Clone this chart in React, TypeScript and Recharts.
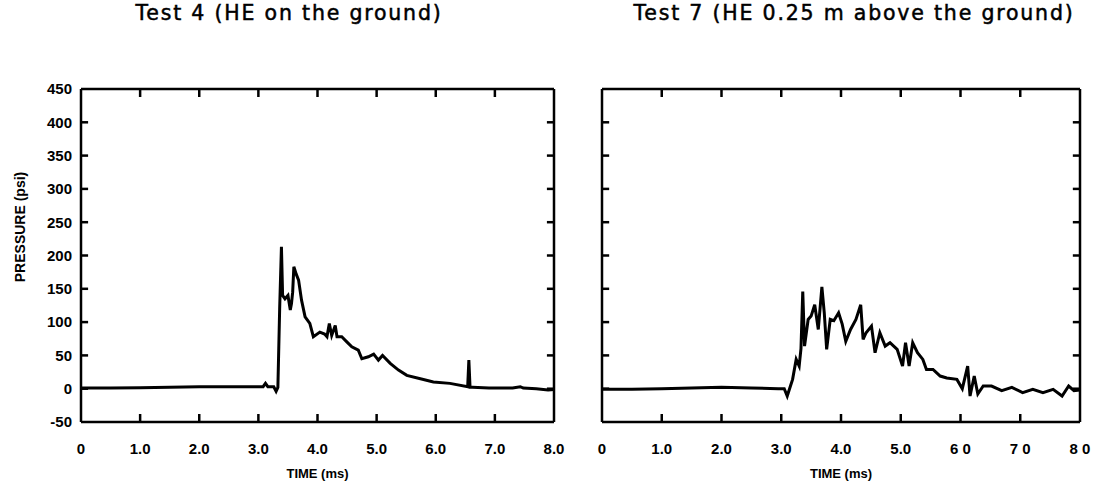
import { LineChart, Line, XAxis, YAxis, Label, ReferenceLine } from "recharts";

// time axis (ms) and pressure axis (psi)
const timeTicks = [0, 1, 2, 3, 4, 5, 6, 7, 8];
const pressureTicks = [-50, 0, 50, 100, 150, 200, 250, 300, 350, 400, 450];
const test4TimeLabels = ["0", "1.0", "2.0", "3.0", "4.0", "5.0", "6.0", "7.0", "8.0"];
const test7TimeLabels = ["0", "1.0", "2.0", "3.0", "4.0", "5.0", "6 0", "7 0", "8 0"];

// Test 4 - HE on the ground
const test4Time = [
  0, 0.5, 1.0, 1.5, 2.0, 2.5, 2.9, 3.08, 3.12, 3.16, 3.26, 3.3, 3.33, 3.36, 3.39, 3.41, 3.45,
  3.5, 3.54, 3.56, 3.58, 3.6, 3.64, 3.68, 3.73, 3.79, 3.87, 3.93, 4.04, 4.12, 4.16, 4.2, 4.24,
  4.3, 4.33, 4.41, 4.5, 4.58, 4.69, 4.75, 4.86, 4.95, 5.03, 5.1, 5.23, 5.37, 5.51, 5.74, 5.96,
  6.24, 6.54, 6.56, 6.58, 6.62, 6.9, 7.1, 7.3, 7.43, 7.48, 7.7, 7.9, 8.0,
];
const test4Pressure = [
  1, 1, 1.5, 2, 3, 3, 3, 3, 8, 3, 3, -4, 2, 120, 213, 140, 135,
  140, 118, 128, 145, 183, 172, 163, 133, 108, 98, 78, 85, 82, 78, 98, 80,
  95, 78, 78, 70, 63, 58, 45, 48, 52, 43, 50, 38, 28, 20, 15, 10,
  8, 3, 43, 2, 2, 1, 1, 1, 3, 1, 0, -2, -1,
];

// Test 7 - HE 0.25 m above the ground
const test7Time = [
  0, 0.5, 1.0, 1.5, 2.0, 2.5, 2.95, 3.05, 3.1, 3.15, 3.19, 3.25, 3.3, 3.33, 3.36, 3.39, 3.45,
  3.5, 3.56, 3.62, 3.68, 3.72, 3.76, 3.82, 3.88, 3.96, 4.02, 4.08, 4.16, 4.25, 4.33, 4.37, 4.42,
  4.51, 4.57, 4.65, 4.74, 4.82, 4.94, 5.03, 5.08, 5.14, 5.2, 5.28, 5.37, 5.43, 5.54, 5.66, 5.77,
  5.94, 6.03, 6.12, 6.16, 6.23, 6.29, 6.38, 6.52, 6.69, 6.86, 7.04, 7.21, 7.38, 7.55, 7.7, 7.81,
  7.9, 8.0,
];
const test7Pressure = [
  -1, -1, 0, 1, 2, 1, 0, 0, -11, 3, 14, 44, 34, 60, 146, 64, 104,
  109, 126, 89, 153, 114, 59, 104, 102, 114, 97, 71, 89, 104, 126, 74, 84,
  94, 54, 84, 64, 69, 59, 34, 69, 34, 69, 54, 44, 29, 29, 19, 16,
  14, 0, 34, -11, 19, -8, 4, 4, -3, 2, -6, -1, -6, -1, -11, 4,
  -3, -2,
];

const toRows = (t: number[], p: number[]) => t.map((time, i) => ({ time, pressure: p[i] }));

const FONT = "Liberation Sans, Arial, sans-serif";
const tickFont = { fill: "#000", fontSize: 15, fontWeight: 700, fontFamily: FONT };
const axisStroke = { stroke: "#000", strokeWidth: 2.5 };

const T_MIN = 0;
const T_MAX = 8;
const P_MIN = -50;
const P_MAX = 450;
// inward tick length, in data units (about 7-8 px)
const T_TICK = 0.12;
const P_TICK = 12;

const innerTimeTicks = timeTicks.filter((t) => t > T_MIN && t < T_MAX);
const innerPressureTicks = pressureTicks.filter((p) => p > P_MIN && p < P_MAX);

function tickMark(key: string, x1: number, y1: number, x2: number, y2: number) {
  return (
    <ReferenceLine
      key={key}
      segment={[{ x: x1, y: y1 }, { x: x2, y: y2 }]}
      stroke="#000"
      strokeWidth={2.5}
      ifOverflow="visible"
    />
  );
}

interface PanelProps {
  title: string;
  titleCenter: number;
  left: number;
  width: number;
  yWidth: number;
  rightMargin: number;
  showYLabels: boolean;
  timeLabels: string[];
  data: { time: number; pressure: number }[];
}

function Panel({ title, titleCenter, left, width, yWidth, rightMargin, showYLabels, timeLabels, data }: PanelProps) {
  return (
    <>
      <div
        style={{
          position: "absolute",
          top: 3,
          left: titleCenter,
          transform: "translateX(-50%)",
          whiteSpace: "nowrap",
          fontFamily: "DejaVu Sans, sans-serif",
          fontSize: 20.5,
          lineHeight: "20px",
          letterSpacing: 1.8,
          WebkitTextStroke: "0.5px #000",
          color: "#000",
        }}
      >
        {title}
      </div>
      <div style={{ position: "absolute", top: 0, left }}>
        <LineChart width={width} height={489} data={data} margin={{ top: 88, right: rightMargin, bottom: 7, left: 0 }}>
          <XAxis
            dataKey="time"
            type="number"
            domain={[T_MIN, T_MAX]}
            allowDataOverflow
            ticks={timeTicks}
            tickFormatter={(v: number) => timeLabels[timeTicks.indexOf(v)] ?? ""}
            height={60}
            tickSize={0}
            tickMargin={21}
            tick={tickFont}
            axisLine={axisStroke}
            tickLine={false}
            interval={0}
          >
            <Label
              value="TIME (ms)"
              position="insideBottom"
              offset={4}
              style={{ fill: "#000", fontSize: 13, fontWeight: 700, fontFamily: FONT }}
            />
          </XAxis>
          <XAxis
            xAxisId="top"
            orientation="top"
            type="number"
            domain={[T_MIN, T_MAX]}
            allowDataOverflow
            height={1}
            tick={false}
            tickLine={false}
            axisLine={axisStroke}
          />
          <YAxis
            type="number"
            domain={[P_MIN, P_MAX]}
            allowDataOverflow
            ticks={pressureTicks}
            width={yWidth}
            tickSize={0}
            tickMargin={9}
            tick={showYLabels ? tickFont : false}
            axisLine={axisStroke}
            tickLine={false}
            interval={0}
          />
          <YAxis
            yAxisId="right"
            orientation="right"
            type="number"
            domain={[P_MIN, P_MAX]}
            allowDataOverflow
            width={1}
            tick={false}
            tickLine={false}
            axisLine={axisStroke}
          />
          {innerTimeTicks.map((t) => tickMark(`b${t}`, t, P_MIN, t, P_MIN + P_TICK))}
          {innerTimeTicks.map((t) => tickMark(`t${t}`, t, P_MAX, t, P_MAX - P_TICK))}
          {innerPressureTicks.map((p) => tickMark(`l${p}`, T_MIN, p, T_MIN + T_TICK, p))}
          {innerPressureTicks.map((p) => tickMark(`r${p}`, T_MAX, p, T_MAX - T_TICK, p))}
          <Line
            type="linear"
            dataKey="pressure"
            stroke="#000"
            strokeWidth={3}
            dot={false}
            isAnimationActive={false}
          />
        </LineChart>
      </div>
    </>
  );
}

export default function App() {
  return (
    <div style={{ position: "absolute", top: 0, left: 0, width: 1097, height: 489, background: "#fff" }}>
      <Panel
        title="Test 4 (HE on the ground)"
        titleCenter={289}
        left={0}
        width={575}
        yWidth={81}
        rightMargin={20}
        showYLabels
        timeLabels={test4TimeLabels}
        data={toRows(test4Time, test4Pressure)}
      />
      <Panel
        title="Test 7 (HE 0.25 m above the ground)"
        titleCenter={854}
        left={575}
        width={522}
        yWidth={27}
        rightMargin={16}
        showYLabels={false}
        timeLabels={test7TimeLabels}
        data={toRows(test7Time, test7Pressure)}
      />
      <div
        style={{
          position: "absolute",
          left: 20,
          top: 227,
          transform: "translate(-50%, -50%) rotate(-90deg)",
          whiteSpace: "nowrap",
          fontFamily: FONT,
          fontWeight: 700,
          fontSize: 14,
          color: "#000",
        }}
      >
        PRESSURE (psi)
      </div>
    </div>
  );
}
